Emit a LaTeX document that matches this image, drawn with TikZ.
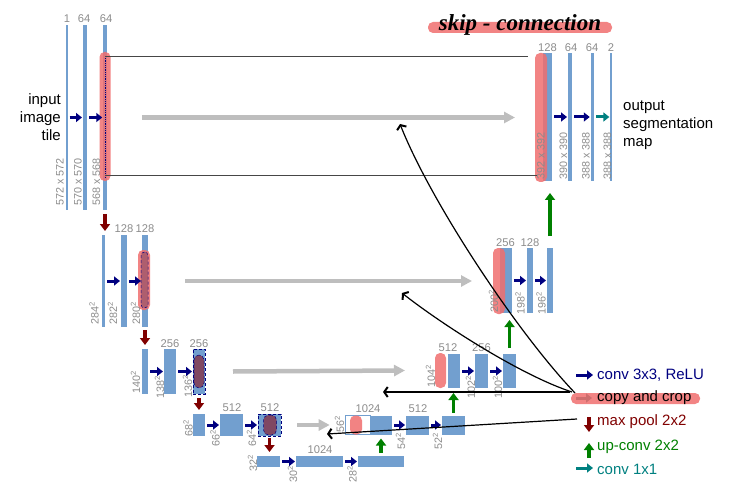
\documentclass[tikz,border=0pt]{standalone}
\usepackage{fontspec}
\setmainfont{Liberation Sans}
\newfontfamily\handfont{Liberation Serif}
\usetikzlibrary{arrows.meta,calc}
\definecolor{barblue}{RGB}{114,159,207}
\definecolor{navyc}{RGB}{0,0,128}
\definecolor{poolred}{RGB}{128,0,0}
\definecolor{upgreen}{RGB}{0,128,0}
\definecolor{tealc}{RGB}{0,128,128}
\definecolor{hlred}{RGB}{240,110,110}
\definecolor{copyd}{RGB}{128,72,98}
\definecolor{lblgray}{RGB}{140,140,140}
\definecolor{cpgray}{RGB}{190,190,190}
\definecolor{thinline}{RGB}{70,70,70}
\tikzset{
  blk/.style={fill=barblue, draw=none, inner sep=0pt, outer sep=0pt},
  hl/.style={fill=hlred, fill opacity=0.85, draw=none, rounded corners=5pt, inner sep=0pt, outer sep=0pt},
  num/.style={text=lblgray, font=\fontsize{11.2}{13}\selectfont, inner sep=0pt, anchor=base},
  dimlbl/.style={text=lblgray, font=\fontsize{10.8}{12}\selectfont, inner sep=0pt, rotate=90, anchor=west},
  convarr/.style={navyc, line width=3pt, -{Triangle[length=6pt,width=9pt]}, shorten <=2pt, shorten >=1pt},
  onearr/.style={tealc, line width=3pt, -{Triangle[length=6pt,width=9pt]}},
  poolarr/.style={poolred, line width=3.5pt, -{Triangle[length=7pt,width=10pt]}},
  uparr/.style={upgreen, line width=3.5pt, -{Triangle[length=7pt,width=10pt]}},
  copyarr/.style={cpgray, line width=4.5pt, -{Triangle[length=11pt,width=11pt]}},
  annot/.style={black, line width=1.2pt, -{Straight Barb[length=3.5pt,width=10pt,line width=2pt]}},
  dashfr/.style={draw=navyc, densely dashed, line width=0.6pt, inner sep=0pt, outer sep=0pt},
  darkov/.style={fill=copyd, draw=navyc, densely dashed, line width=0.5pt, rounded corners=5pt, inner sep=0pt, outer sep=0pt},
  legtxt/.style={anchor=west, inner sep=0pt, font=\fontsize{15}{18}\selectfont},
}
\newcommand\ublk[5]{\node[blk, minimum width=#4pt, minimum height=#5pt] (#1) at (#2,#3) {};}
\begin{document}
\begin{tikzpicture}[x=1pt,y=-1pt]
\useasboundingbox (0,0) rectangle (751,494);

% ---------- skip-connection annotation ----------
\node[hl, minimum width=184pt, minimum height=11pt] (skh) at (520,27.5) {};
\node[inner sep=0pt, font=\handfont\bfseries\itshape\fontsize{23}{26}\selectfont] (skt) at (520,25) {skip - connection};

% ---------- level 1 ----------
\ublk{L1a}{67}{117.5}{1.3}{185}
\ublk{L1b}{85}{117.5}{4}{185}
\ublk{L1c}{105}{117.5}{3.5}{185}
\node[hl, minimum width=11pt, minimum height=129pt] (L1h) at (105,116.5) {};
\draw[navyc, densely dotted, line width=0.8pt] (105,56) -- (105,178);

\ublk{R1a}{547.5}{117}{9}{128}
\node[hl, minimum width=12pt, minimum height=129pt] (R1h) at (541,117.5) {};
\ublk{R1b}{570}{117}{4}{128}
\ublk{R1c}{592.5}{117}{3.5}{128}
\ublk{R1d}{611}{117}{1.3}{128}

\coordinate (t1a) at (105,56);  \coordinate (t1b) at (528,56);
\coordinate (b1a) at (105,175); \coordinate (b1b) at (537,175);
\draw[thinline, line width=0.8pt] (t1a) -- (t1b);
\draw[thinline, line width=0.8pt] (b1a) -- (b1b);

\draw[convarr] (L1a.east) -- (L1b.west);
\draw[convarr] (L1b.east) -- (L1c.west);
\draw[convarr] (R1a.east) -- (R1b.west);
\draw[convarr] (R1b.east) -- (R1c.west);
\draw[onearr, shorten <=2pt, shorten >=1pt] (R1c.east) -- (R1d.west);
\draw[copyarr] ($(L1c.east)+(35,0)$) -- ($(R1h.west)+(-20,0)$);

\node[num] at (67,23) {1};
\node[num] at (84,23) {64};
\node[num] at (106,23) {64};
\node[num] at (547.5,52) {128};
\node[num] at (571,52) {64};
\node[num] at (592,52) {64};
\node[num] at (611,52) {2};
\node[dimlbl] at (60,206) {572 x 572};
\node[dimlbl] at (78,206) {570 x 570};
\node[dimlbl] at (96.5,206) {568 x 568};
\node[dimlbl] at (541,180) {392 x 392};
\node[dimlbl] at (563.5,180) {390 x 390};
\node[dimlbl] at (586,180) {388 x 388};
\node[dimlbl] at (607.5,180) {388 x 388};

\node[anchor=east, align=right, inner sep=0pt, font=\fontsize{15}{18}\selectfont] (inp) at (61,117) {input\\image\\tile};
\node[anchor=west, align=left, inner sep=0pt, font=\fontsize{15}{18}\selectfont] (outp) at (623,125) {output\\segmentation\\map};

% ---------- level 2 ----------
\ublk{L2a}{103.5}{281}{3.5}{92}
\ublk{L2b}{124}{281}{6}{92}
\ublk{L2c}{145}{281}{6}{92}
\node[hl, minimum width=12pt, minimum height=60pt] (L2h) at (144,280) {};
\node[darkov, fill opacity=0.5, minimum width=7pt, minimum height=56pt, rounded corners=3.5pt] at (144.5,280) {};

\ublk{R2a}{506}{280.5}{12}{65}
\node[hl, minimum width=12pt, minimum height=66pt] (R2h) at (499,281) {};
\ublk{R2b}{530}{280.5}{6}{65}
\ublk{R2c}{550}{280.5}{6}{65}

\draw[convarr] (L2a.east) -- (L2b.west);
\draw[convarr] (L2b.east) -- (L2c.west);
\draw[convarr] (R2a.east) -- (R2b.west);
\draw[convarr] (R2b.east) -- (R2c.west);
\draw[copyarr] ($(L2c.east)+(37,0)$) -- ($(R2h.west)+(-21,0)$);

\node[num] at (124,232) {128};
\node[num] at (145,232) {128};
\node[num] at (505.5,246) {256};
\node[num] at (530,246) {128};
\node[dimlbl] at (94,325) {284\textsuperscript{2}};
\node[dimlbl] at (112.5,325) {282\textsuperscript{2}};
\node[dimlbl] at (135.5,325) {280\textsuperscript{2}};
\node[dimlbl] at (493.5,313) {200\textsuperscript{2}};
\node[dimlbl] at (520,315) {198\textsuperscript{2}};
\node[dimlbl] at (541,315) {196\textsuperscript{2}};

% ---------- level 3 ----------
\ublk{L3a}{145}{371.5}{6}{45}
\ublk{L3b}{170}{371.5}{12}{45}
\ublk{L3c}{199}{371.5}{12}{45}
\node[dashfr, minimum width=12pt, minimum height=45pt] at (199,371.5) {};
\node[darkov, minimum width=10pt, minimum height=33pt] at (199,371.5) {};

\node[hl, minimum width=11pt, minimum height=35pt] (R3h) at (440.5,370.5) {};
\ublk{R3a}{454}{371}{12}{34}
\ublk{R3b}{481.5}{371}{13}{34}
\ublk{R3c}{509.5}{371}{13}{34}

\draw[convarr] (L3a.east) -- (L3b.west);
\draw[convarr] (L3b.east) -- (L3c.west);
\draw[convarr] (R3a.east) -- (R3b.west);
\draw[convarr] (R3b.east) -- (R3c.west);
\draw[copyarr] ($(L3c.east)+(28,0)$) -- ($(R3h.west)+(-30,0)$);

\node[num] at (170,347) {256};
\node[num] at (199,347) {256};
\node[num] at (448,351) {512};
\node[num] at (481.5,351) {256};
\node[dimlbl] at (135.5,394) {140\textsuperscript{2}};
\node[dimlbl] at (159.5,399) {138\textsuperscript{2}};
\node[dimlbl] at (187.5,398) {136\textsuperscript{2}};
\node[dimlbl] at (430.5,388) {104\textsuperscript{2}};
\node[dimlbl] at (470.5,399) {102\textsuperscript{2}};
\node[dimlbl] at (497.5,399) {100\textsuperscript{2}};

% ---------- level 4 ----------
\ublk{L4a}{199}{425}{12}{22}
\ublk{L4b}{231.5}{425}{23}{22}
\ublk{L4c}{269.5}{425}{23}{22}
\node[dashfr, minimum width=23pt, minimum height=22pt] at (269.5,425) {};
\node[darkov, minimum width=13pt, minimum height=20pt] at (270,425) {};

\node[draw=barblue, fill=white, line width=0.6pt, inner sep=0pt, minimum width=25pt, minimum height=19pt] (R4w) at (357.5,425) {};
\node[hl, minimum width=12pt, minimum height=19pt] (R4h) at (356,425) {};
\ublk{R4a}{381}{425}{22}{19}
\ublk{R4b}{417.5}{425}{23}{19}
\ublk{R4c}{453.5}{425}{23}{19}

\draw[convarr] (L4a.east) -- (L4b.west);
\draw[convarr] (L4b.east) -- (L4c.west);
\draw[convarr] (R4a.east) -- (R4b.west);
\draw[convarr] (R4b.east) -- (R4c.west);
\draw[copyarr] ($(L4c.east)+(16,0)$) -- ($(R4w.west)+(-15,0)$);

\node[num] at (232,411) {512};
\node[num] at (270,411) {512};
\node[num] at (368,412) {1024};
\node[num] at (418,412) {512};
\node[dimlbl] at (188,437) {68\textsuperscript{2}};
\node[dimlbl] at (215,447) {66\textsuperscript{2}};
\node[dimlbl] at (251.5,447) {64\textsuperscript{2}};
\node[dimlbl] at (339.5,433) {56\textsuperscript{2}};
\node[dimlbl] at (400.5,450) {54\textsuperscript{2}};
\node[dimlbl] at (437.5,450) {52\textsuperscript{2}};

% ---------- level 5 ----------
\ublk{L5a}{268.5}{461.5}{23}{11}
\ublk{L5b}{319.5}{461.5}{47}{11}
\ublk{L5c}{381}{461.5}{46}{11}
\draw[convarr] (L5a.east) -- (L5b.west);
\draw[convarr] (L5b.east) -- (L5c.west);
\node[num] at (320,453) {1024};
\node[dimlbl] at (252.5,472) {32\textsuperscript{2}};
\node[dimlbl] at (292.5,483) {30\textsuperscript{2}};
\node[dimlbl] at (352,483) {28\textsuperscript{2}};

% ---------- pooling (down) ----------
\draw[poolarr, shorten <=4pt, shorten >=4pt] (L1c.south) -- (L1c.south |- L2a.north);
\draw[poolarr, shorten <=3pt, shorten >=4pt] (L2c.south) -- (L2c.south |- L3a.north);
\draw[poolarr, shorten <=4pt, shorten >=4pt] (L3c.south) -- (L3c.south |- L4a.north);
\draw[poolarr, shorten <=2pt, shorten >=4pt] (L4c.south) -- (L4c.south |- L5a.north);

% ---------- up-conv (up) ----------
\draw[uparr, shorten <=12pt, shorten >=12pt] (R2c.north) -- (R2c.north |- R1a.south);
\draw[uparr, shorten <=6pt, shorten >=7pt] (R3c.north) -- (R3c.north |- R2a.south);
\draw[uparr, shorten <=3pt, shorten >=5pt] (R4c.north) -- (R4c.north |- R3a.south);
\draw[uparr, shorten <=3pt, shorten >=4pt] (L5c.north) -- (L5c.north |- R4a.south);

% ---------- legend ----------
\coordinate (lg1a) at (576,375); \coordinate (lg1b) at (593,375);
\draw[navyc, line width=3pt, -{Triangle[length=6pt,width=9pt]}] (lg1a) -- (lg1b);
\node[legtxt, text=navyc] (lgt1) at (597,375) {conv 3x3, ReLU};
\node[hl, minimum width=129pt, minimum height=11pt] (lgh) at (635.5,398.5) {};
\coordinate (lg2a) at (576,398); \coordinate (lg2b) at (592,398);
\draw[color={rgb,255:red,205;green,110;blue,110}, line width=3pt, -{Triangle[length=6pt,width=9pt]}] (lg2a) -- (lg2b);
\node[legtxt] (lgt2) at (597,398) {copy and crop};
\coordinate (lg3a) at (589,417); \coordinate (lg3b) at (589,432);
\draw[poolarr] (lg3a) -- (lg3b);
\node[legtxt, text=poolred] (lgt3) at (597,422) {max pool 2x2};
\coordinate (lg4a) at (589,458); \coordinate (lg4b) at (589,443);
\draw[uparr] (lg4a) -- (lg4b);
\node[legtxt, text=upgreen] (lgt4) at (597,447) {up-conv 2x2};
\coordinate (lg5a) at (576,468); \coordinate (lg5b) at (593,468);
\draw[onearr] (lg5a) -- (lg5b);
\node[legtxt, text=tealc] (lgt5) at (597,469) {conv 1x1};

% ---------- annotation arrows ----------
\coordinate (a1s) at (575,393);
\coordinate (a1e) at (400,124);
\coordinate (a2s) at (572,392);
\coordinate (a2e) at (402,293);
\coordinate (a3s) at (570,392);
\coordinate (a3e) at (383,392);
\coordinate (a4s) at (577,419);
\coordinate (a4e) at (327,434);
\draw[annot] (a1s) .. controls (515,330) and (430,200) .. (a1e);
\draw[annot] (a2s) .. controls (520,375) and (440,323) .. (a2e);
\draw[annot] (a3s) -- (a3e);
\draw[annot] (a4s) -- (a4e);
\end{tikzpicture}
\end{document}
